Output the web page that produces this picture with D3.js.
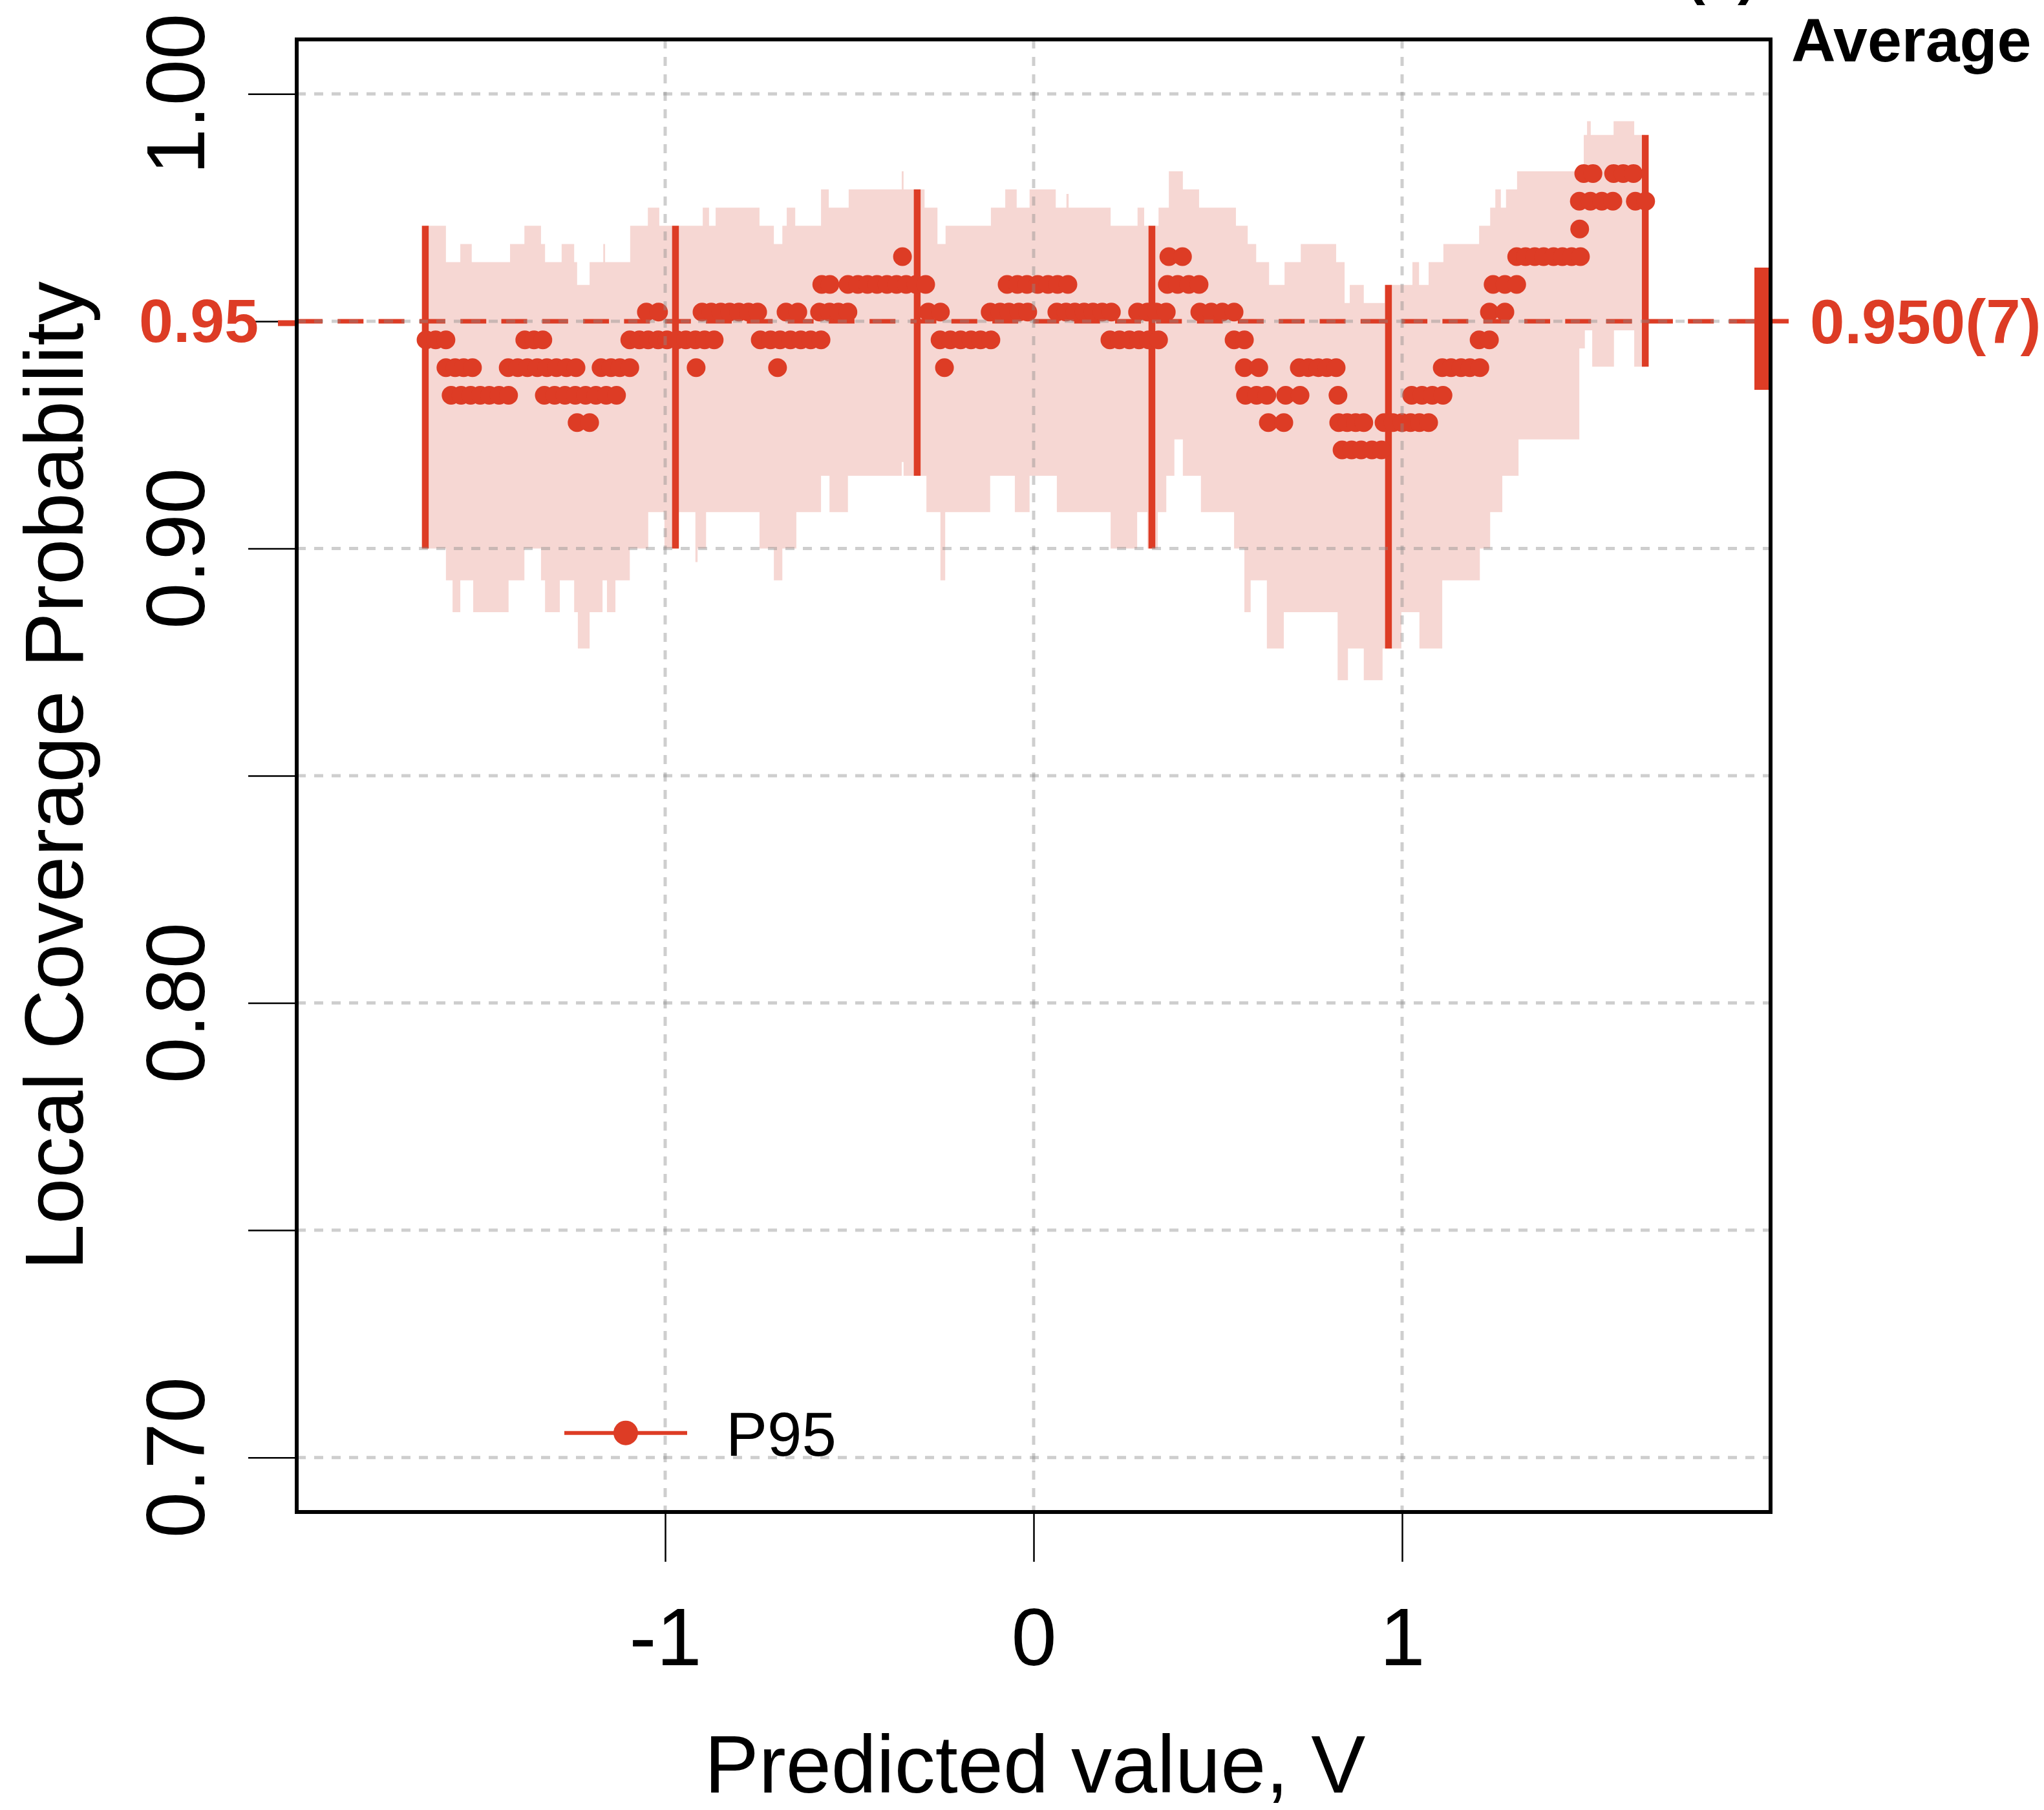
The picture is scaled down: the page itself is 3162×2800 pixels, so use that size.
<!DOCTYPE html>
<html>
<head>
<meta charset="utf-8">
<script src="https://cdn.jsdelivr.net/npm/d3@7"></script>
<style>
  body { margin: 0; background: #ffffff; }
  svg text { font-family: "Liberation Sans", Arial, Helvetica, sans-serif; }
</style>
</head>
<body>
<div id="chart"></div>
<script>
// ---- data ----
var xTicks = [-1, 0, 1];
var yTicks = [0.70, 0.75, 0.80, 0.85, 0.90, 0.95, 1.00];
var yTickLabels = ["0.70", "", "0.80", "", "0.90", "", "1.00"];
var targetLevel = 0.95;

// local coverage of each test point, grouped by the discrete coverage level
var covLevels = [0.9217, 0.9277, 0.9337, 0.9398, 0.9459, 0.9520, 0.9581, 0.9642, 0.9703, 0.9764, 0.9825];
var predAtLevel = [
  [0.837, 0.863, 0.889, 0.918, 0.944],
  [-1.239, -1.205, 0.637, 0.679, 0.828, 0.851, 0.874, 0.896, 0.951, 0.975, 1.000, 1.023, 1.047, 1.072],
  [-1.581, -1.554, -1.528, -1.502, -1.477, -1.451, -1.425, -1.328, -1.300, -1.272, -1.244, -1.216, -1.188,
   -1.160, -1.132, 0.575, 0.605, 0.633, 0.684, 0.723, 0.826, 1.026, 1.054, 1.082, 1.111],
  [-1.595, -1.570, -1.547, -1.523, -1.426, -1.400, -1.374, -1.347, -1.321, -1.295, -1.268, -1.242, -1.174,
   -1.147, -1.123, -1.096, -0.916, -0.695, -0.242, 0.572, 0.611, 0.721, 0.746, 0.772, 0.796, 0.821, 1.109,
   1.133, 1.160, 1.184, 1.211],
  [-1.649, -1.623, -1.595, -1.381, -1.356, -1.332, -1.096, -1.070, -1.046, -1.019, -0.995, -0.968, -0.944,
   -0.918, -0.893, -0.867, -0.742, -0.714, -0.688, -0.660, -0.632, -0.605, -0.577, -0.254, -0.226, -0.198,
   -0.170, -0.144, -0.116, 0.207, 0.233, 0.260, 0.286, 0.312, 0.339, 0.544, 0.572, 1.209, 1.237],
  [-1.051, -1.018, -0.900, -0.875, -0.849, -0.825, -0.800, -0.774, -0.749, -0.672, -0.640, -0.581, -0.554,
   -0.530, -0.504, -0.286, -0.253, -0.118, -0.091, -0.067, -0.040, -0.016, 0.063, 0.088, 0.112, 0.137,
   0.161, 0.186, 0.211, 0.282, 0.309, 0.333, 0.360, 0.451, 0.482, 0.512, 0.544, 1.237, 1.279],
  [-0.575, -0.553, -0.504, -0.477, -0.451, -0.425, -0.398, -0.372, -0.346, -0.319, -0.293, -0.072, -0.044,
   -0.018, 0.011, 0.039, 0.065, 0.093, 0.363, 0.391, 0.421, 0.449, 1.247, 1.279, 1.311],
  [-0.356, 0.367, 0.404, 1.311, 1.335, 1.360, 1.384, 1.411, 1.435, 1.460, 1.484],
  [1.482],
  [1.481, 1.511, 1.542, 1.572, 1.633, 1.661],
  [1.493, 1.518, 1.574, 1.600, 1.628]
];

// shaded band: step edges (start of each step and its value)
var bandEnd = 1.660;
var bandUpperX = [-1.651, -1.595, -1.556, -1.525, -1.421, -1.382, -1.337, -1.326, -1.281, -1.247, -1.239, -1.205,
  -1.168, -1.163, -1.095, -1.047, -1.016, -0.898, -0.881, -0.863, -0.744, -0.705, -0.682, -0.670, -0.647,
  -0.577, -0.556, -0.502, -0.358, -0.353, -0.296, -0.261, -0.239, -0.116, -0.077, -0.046, -0.011, 0.060,
  0.089, 0.095, 0.209, 0.282, 0.300, 0.339, 0.367, 0.405, 0.449, 0.549, 0.581, 0.604, 0.639, 0.681, 0.725,
  0.821, 0.844, 0.858, 0.896, 0.953, 1.028, 1.046, 1.072, 1.112, 1.209, 1.239, 1.253, 1.268, 1.282, 1.312,
  1.493, 1.502, 1.512, 1.574, 1.630];
var bandUpperY = [0.971, 0.963, 0.967, 0.963, 0.967, 0.971, 0.967, 0.963, 0.967, 0.963, 0.958, 0.963,
  0.967, 0.963, 0.971, 0.975, 0.971, 0.975, 0.971, 0.975, 0.971, 0.967, 0.971, 0.975, 0.971,
  0.979, 0.975, 0.979, 0.983, 0.979, 0.975, 0.967, 0.971, 0.975, 0.979, 0.975, 0.979, 0.975,
  0.978, 0.975, 0.971, 0.975, 0.971, 0.975, 0.983, 0.979, 0.975, 0.971, 0.967, 0.963, 0.958, 0.963, 0.967,
  0.963, 0.954, 0.958, 0.954, 0.958, 0.963, 0.958, 0.963, 0.967, 0.971, 0.975, 0.979, 0.975, 0.979, 0.983,
  0.991, 0.994, 0.991, 0.994, 0.991];
var bandLowerX = [-1.651, -1.595, -1.577, -1.556, -1.521, -1.425, -1.382, -1.337, -1.326, -1.286, -1.247, -1.237,
  -1.205, -1.170, -1.158, -1.135, -1.096, -1.046, -1.002, -0.963, -0.918, -0.912, -0.889, -0.744, -0.705,
  -0.682, -0.644, -0.577, -0.554, -0.504, -0.358, -0.353, -0.291, -0.253, -0.240, -0.118, -0.051, -0.011,
  0.063, 0.209, 0.281, 0.309, 0.337, 0.360, 0.382, 0.405, 0.454, 0.544, 0.572, 0.589, 0.633, 0.679, 0.825,
  0.853, 0.896, 0.947, 0.998, 1.047, 1.109, 1.211, 1.239, 1.272, 1.316, 1.481, 1.496, 1.516, 1.575, 1.630];
var bandLowerY = [0.900, 0.893, 0.886, 0.893, 0.886, 0.893, 0.900, 0.893, 0.886, 0.893, 0.886, 0.878,
  0.886, 0.893, 0.886, 0.893, 0.900, 0.908, 0.900, 0.908, 0.897, 0.900, 0.908, 0.900, 0.893,
  0.900, 0.908, 0.916, 0.908, 0.916, 0.919, 0.916, 0.908, 0.893, 0.908, 0.916, 0.908, 0.916,
  0.908, 0.900, 0.908, 0.900, 0.908, 0.916, 0.924, 0.916, 0.908, 0.900, 0.886, 0.893, 0.878, 0.886, 0.871,
  0.878, 0.871, 0.878, 0.886, 0.878, 0.893, 0.900, 0.908, 0.916, 0.924, 0.944, 0.948, 0.940, 0.948, 0.940];

// interval bars at a few sample points
var barX = [-1.651, -0.972, -0.316, 0.321, 0.963, 1.660];
var barLow = [0.900, 0.900, 0.916, 0.900, 0.878, 0.940];
var barHigh = [0.971, 0.971, 0.979, 0.971, 0.958, 0.991];

// overall average coverage
var avgLabel = "0.950(7)";
var avgLow = 0.9349;
var avgHigh = 0.9618;

var svgWidth = 3162;
var svgHeight = 2800;

var margin = {
  top: 61,
  right: 423,
  bottom: 461,
  left: 459
};

var width = svgWidth - margin.left - margin.right;
var height = svgHeight - margin.top - margin.bottom;

var red = "#dd3c25";
var pink = "#f6d7d3";

var svg = d3
  .select("#chart")
  .append("svg")
  .attr("width", svgWidth)
  .attr("height", svgHeight)
  .style("background", "#ffffff");

var chartGroup = svg.append("g")
  .attr("transform", `translate(${margin.left}, ${margin.top})`);

var xScale = d3.scaleLinear().domain([-2, 2]).range([0, width]);
var yScale = d3.scaleLinear().domain([0.688, 1.012]).range([height, 0]);

// build the stepped band polygon
function stepPoints(xs, vs, xEnd) {
  var pts = [];
  for (var i = 0; i < xs.length; i++) {
    var next = i < xs.length - 1 ? xs[i + 1] : xEnd;
    pts.push([xs[i], vs[i]]);
    pts.push([next, vs[i]]);
  }
  return pts;
}

var upper = stepPoints(bandUpperX, bandUpperY, bandEnd);
var lower = stepPoints(bandLowerX, bandLowerY, bandEnd).reverse();

var bandLine = d3.line()
  .x(d => xScale(d[0]))
  .y(d => yScale(d[1]));

chartGroup.append("path")
  .datum(upper.concat(lower))
  .attr("d", d => bandLine(d) + "Z")
  .attr("fill", pink)
  .attr("stroke", "none");

// interval bars
chartGroup.append("g").selectAll("line")
  .data(barX)
  .enter()
  .append("line")
  .attr("x1", d => xScale(d))
  .attr("x2", d => xScale(d))
  .attr("y1", (d, i) => yScale(barLow[i]))
  .attr("y2", (d, i) => yScale(barHigh[i]))
  .attr("stroke", red)
  .attr("stroke-width", 10.5);

// target level
chartGroup.append("line")
  .attr("x1", 0)
  .attr("x2", width)
  .attr("y1", yScale(targetLevel))
  .attr("y2", yScale(targetLevel))
  .attr("stroke", red)
  .attr("stroke-width", 7)
  .attr("stroke-dasharray", "40,23.3");

// points
var dots = [];
covLevels.forEach(function(level, i) {
  predAtLevel[i].forEach(function(v) {
    dots.push({pred: v, cov: level});
  });
});

chartGroup.append("g").selectAll("circle")
  .data(dots)
  .enter()
  .append("circle")
  .attr("cx", d => xScale(d.pred))
  .attr("cy", d => yScale(d.cov))
  .attr("r", 14.5)
  .attr("fill", red);

// grid on top, light dotted
var grid = chartGroup.append("g")
  .attr("stroke", "#8a8a8a")
  .attr("stroke-opacity", 0.42)
  .attr("stroke-width", 5)
  .attr("stroke-dasharray", "14,13");

grid.selectAll(".hgrid")
  .data(yTicks)
  .enter()
  .append("line")
  .attr("x1", 0)
  .attr("x2", width)
  .attr("y1", d => yScale(d))
  .attr("y2", d => yScale(d));

grid.selectAll(".vgrid")
  .data(xTicks)
  .enter()
  .append("line")
  .attr("x1", d => xScale(d))
  .attr("x2", d => xScale(d))
  .attr("y1", 0)
  .attr("y2", height);

// axes (tick marks only from d3, labels drawn below)
var leftAxis = d3.axisLeft(yScale).tickValues(yTicks).tickSize(75).tickFormat("");
var yAxis = chartGroup.append("g").call(leftAxis);
yAxis.select(".domain").remove();
yAxis.selectAll("line").attr("stroke", "#000").attr("stroke-width", 2.5);

var bottomAxis = d3.axisBottom(xScale)
  .tickValues(xTicks)
  .tickSize(77)
  .tickPadding(71)
  .tickFormat(d => String(d));

var xAxis = chartGroup.append("g")
  .attr("transform", `translate(0, ${height})`)
  .call(bottomAxis);
xAxis.select(".domain").remove();
xAxis.selectAll("line").attr("stroke", "#000").attr("stroke-width", 2.5);
xAxis.selectAll("text")
  .attr("font-family", "'Liberation Sans', Arial, Helvetica, sans-serif")
  .attr("font-size", 126)
  .attr("fill", "#000");

// rotated y tick labels
chartGroup.append("g").selectAll("text")
  .data(yTicks.filter((d, i) => yTickLabels[i] !== ""))
  .enter()
  .append("text")
  .attr("transform", d => `translate(-143, ${yScale(d)}) rotate(-90)`)
  .attr("text-anchor", "middle")
  .attr("font-size", 128)
  .attr("fill", "#000")
  .text(d => yTickLabels[yTicks.indexOf(d)]);

// red target label and marks on both sides
chartGroup.append("text")
  .attr("x", -59)
  .attr("y", yScale(targetLevel) + 32)
  .attr("text-anchor", "end")
  .attr("font-size", 95)
  .attr("font-weight", "bold")
  .attr("fill", red)
  .text(targetLevel.toFixed(2));

chartGroup.append("line")
  .attr("x1", -29)
  .attr("x2", 0)
  .attr("y1", yScale(targetLevel) + 3)
  .attr("y2", yScale(targetLevel) + 3)
  .attr("stroke", red)
  .attr("stroke-width", 9);

// average coverage bar at the right edge
chartGroup.append("rect")
  .attr("x", width - 25)
  .attr("width", 25)
  .attr("y", yScale(avgHigh))
  .attr("height", yScale(avgLow) - yScale(avgHigh))
  .attr("fill", red);

chartGroup.append("line")
  .attr("x1", width)
  .attr("x2", width + 28)
  .attr("y1", yScale(targetLevel))
  .attr("y2", yScale(targetLevel))
  .attr("stroke", red)
  .attr("stroke-width", 7);

chartGroup.append("text")
  .attr("x", width + 61)
  .attr("y", yScale(targetLevel) + 34)
  .attr("font-size", 96)
  .attr("font-weight", "bold")
  .attr("fill", red)
  .text(avgLabel);

chartGroup.append("text")
  .attr("x", width + 32)
  .attr("y", 34)
  .attr("font-size", 95)
  .attr("font-weight", "bold")
  .attr("fill", "#000")
  .text("Average");

// panel letter, mostly cut off at the top
chartGroup.append("text")
  .attr("x", width - 131)
  .attr("y", -72)
  .attr("font-size", 90)
  .attr("font-weight", "bold")
  .attr("fill", "#000")
  .text("(a)");

// legend
var legend = chartGroup.append("g")
  .attr("transform", `translate(414, ${yScale(0.7) - 38})`);

legend.append("line")
  .attr("x1", 0)
  .attr("x2", 190)
  .attr("y1", 0)
  .attr("y2", 0)
  .attr("stroke", red)
  .attr("stroke-width", 6);

legend.append("circle")
  .attr("cx", 95)
  .attr("cy", 0)
  .attr("r", 19)
  .attr("fill", red);

legend.append("text")
  .attr("x", 250)
  .attr("y", 35)
  .attr("font-size", 96)
  .attr("fill", "#000")
  .text("P95");

// axis titles
chartGroup.append("text")
  .attr("transform", `translate(-331, ${height / 2}) rotate(-90)`)
  .attr("text-anchor", "middle")
  .attr("font-size", 128)
  .attr("fill", "#000")
  .text("Local Coverage Probability");

chartGroup.append("text")
  .attr("x", width / 2 + 2)
  .attr("y", 2712)
  .attr("text-anchor", "middle")
  .attr("font-size", 126)
  .attr("fill", "#000")
  .text("Predicted value, V");

// plot frame
chartGroup.append("rect")
  .attr("x", 0)
  .attr("y", 0)
  .attr("width", width)
  .attr("height", height)
  .attr("fill", "none")
  .attr("stroke", "#000")
  .attr("stroke-width", 6);
</script>
</body>
</html>
